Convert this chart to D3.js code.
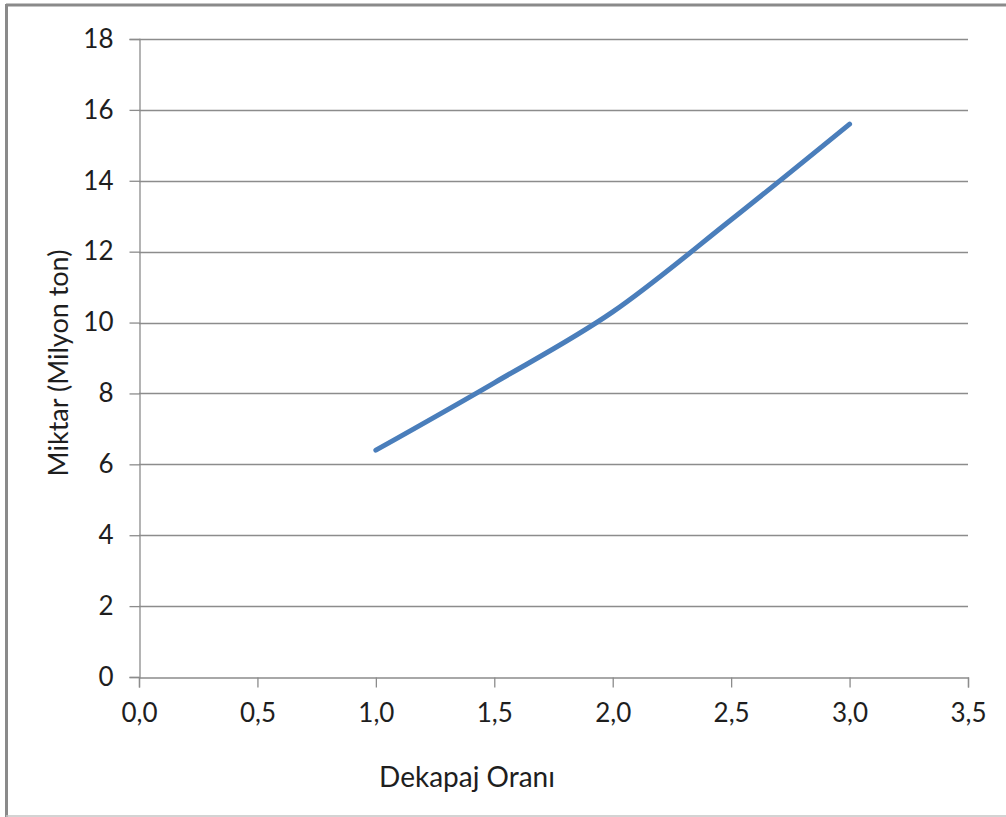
<!DOCTYPE html>
<html lang="tr">

<head>
    <meta charset="UTF-8">
    <script src="https://d3js.org/d3.v7.min.js"></script>
    <title>Dekapaj Oranı - Miktar</title>
    <style>
        body { margin: 0; background: #fff; }
        text { font-family: Lato, "Open Sans", sans-serif; fill: #1e1e1e; }
    </style>
</head>

<body>
    <div id="chart"></div>
    <script>
        // veriler
        const oran = [1.0, 1.5, 2.0, 2.5, 3.0];
        const miktar = [6.4, 8.3, 10.3, 12.9, 15.6];
        const xTicks = [0, 0.5, 1.0, 1.5, 2.0, 2.5, 3.0, 3.5];
        const yTicks = [0, 2, 4, 6, 8, 10, 12, 14, 16, 18];

        const width = 1006;
        const height = 817;
        const plot = { left: 139, right: 968, top: 39, bottom: 677 };

        const svg = d3.select("#chart")
            .append("svg")
            .attr("width", width)
            .attr("height", height);

        // çerçeve
        svg.append("line").attr("x1", 6).attr("x2", width).attr("y1", 5).attr("y2", 5)
            .attr("stroke", "#8a8a8a").attr("stroke-width", 3);
        svg.append("line").attr("x1", 6.5).attr("x2", 6.5).attr("y1", 4).attr("y2", height)
            .attr("stroke", "#8a8a8a").attr("stroke-width", 3);
        svg.append("line").attr("x1", 6).attr("x2", width).attr("y1", 816).attr("y2", 816)
            .attr("stroke", "#c4c4c4").attr("stroke-width", 1.5);

        const x = d3.scaleLinear()
            .domain([0, 3.5])
            .range([plot.left, plot.right]);

        const y = d3.scaleLinear()
            .domain([0, 18])
            .range([plot.bottom, plot.top]);

        // yatay ızgara
        svg.append("g")
            .selectAll("line")
            .data(yTicks.filter(d => d > 0))
            .enter()
            .append("line")
            .attr("x1", plot.left)
            .attr("x2", plot.right)
            .attr("y1", d => Math.round(y(d)) + 0.5)
            .attr("y2", d => Math.round(y(d)) + 0.5)
            .attr("stroke", "#8c8c8c")
            .attr("stroke-width", 1.3);

        // y ekseni
        const yAxis = svg.append("g")
            .attr("transform", `translate(${plot.left + 0.5},0)`)
            .call(d3.axisLeft(y).tickValues(yTicks).tickSize(10).tickPadding(16)
                .tickFormat(d => d));
        yAxis.selectAll("text").style("font-size", "26px").attr("fill", "#1e1e1e");

        // x ekseni
        const xAxis = svg.append("g")
            .attr("transform", `translate(0,${plot.bottom + 0.5})`)
            .call(d3.axisBottom(x).tickValues(xTicks).tickSize(10).tickPadding(16)
                .tickFormat(d => d3.format(".1f")(d).replace(".", ",")));
        xAxis.selectAll("text").style("font-size", "26px").attr("fill", "#1e1e1e");

        svg.selectAll(".domain, .tick line")
            .attr("stroke", "#8c8c8c")
            .attr("stroke-width", 1.3);

        // eğri
        const line = d3.line()
            .x(d => x(d[0]))
            .y(d => y(d[1]))
            .curve(d3.curveCatmullRom.alpha(0));

        svg.append("path")
            .datum(d3.zip(oran, miktar))
            .attr("d", line)
            .attr("fill", "none")
            .attr("stroke", "#4a7ebb")
            .attr("stroke-width", 5)
            .attr("stroke-linecap", "round");

        // eksen başlıkları
        svg.append("text")
            .attr("x", 467)
            .attr("y", 787)
            .attr("text-anchor", "middle")
            .style("font-size", "28px")
            .text("Dekapaj Oranı");

        svg.append("text")
            .attr("transform", "translate(68,363) rotate(-90)")
            .attr("text-anchor", "middle")
            .style("font-size", "27px")
            .text("Miktar (Milyon ton)");
    </script>
</body>

</html>
